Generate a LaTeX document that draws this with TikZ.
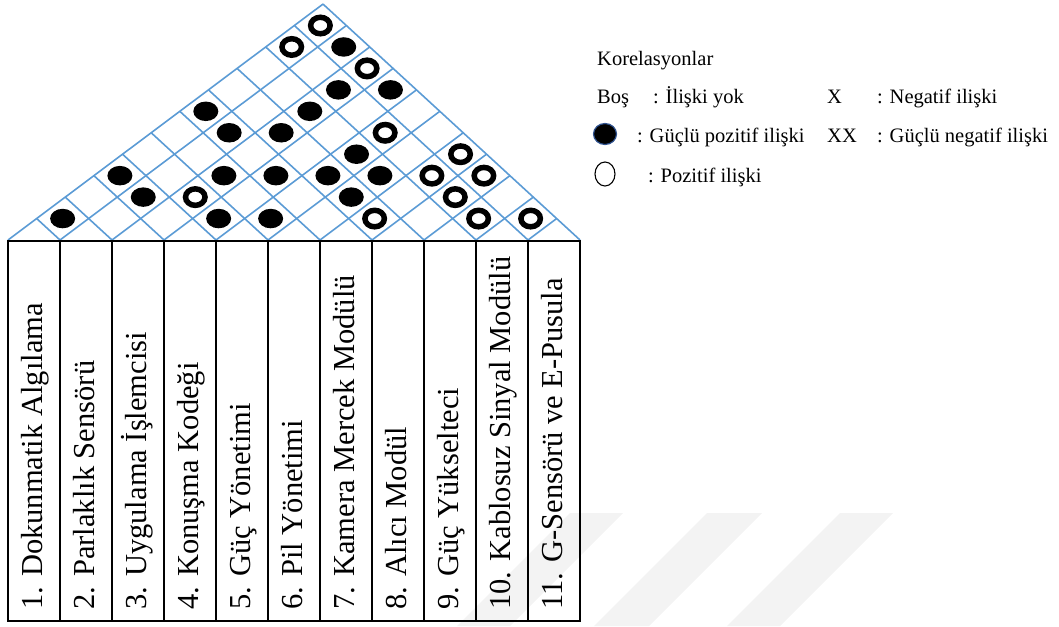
\documentclass[tikz,border=0pt]{standalone}
\usepackage{fontspec}
\setmainfont{Liberation Serif}
\usetikzlibrary{shapes.geometric}
\definecolor{roofblue}{RGB}{91,155,213}
\definecolor{legendedge}{RGB}{47,82,143}
\definecolor{markgray}{RGB}{243,243,243}

\begin{document}
\begin{tikzpicture}[x=1pt,y=-1pt,
  roofline/.style={draw=roofblue, line width=1.6pt},
  colbox/.style={draw=black, line width=2.4pt, minimum width=52pt, minimum height=380pt, inner sep=0pt},
  coltext/.style={rotate=90, anchor=base west, inner sep=0pt, font=\fontsize{30.5}{36}\selectfont},
  strong/.style={ellipse, fill=black, minimum width=25pt, minimum height=19.5pt, inner sep=0pt},
  weak/.style={ellipse, draw=black, fill=white, line width=5.5pt, minimum width=19.5pt, minimum height=16.5pt, inner sep=0pt},
  legtext/.style={anchor=base west, inner sep=0pt, font=\fontsize{20.5}{24}\selectfont},
]
\useasboundingbox (0,0) rectangle (1059,626);

% faint background stripes
\fill[markgray] (570,513) -- (623,513) -- (510,626) -- (457,626) -- cycle;
\fill[markgray] (707,513) -- (762,513) -- (649,626) -- (594,626) -- cycle;
\fill[markgray] (840,513) -- (893,513) -- (780,626) -- (727,626) -- cycle;

% roof slopes (rise per unit run) of the two line families
\pgfmathsetmacro{\sA}{0.749}
\pgfmathsetmacro{\sB}{0.918}

% lines rising to the right from each column boundary
\foreach \k in {0,...,10} {
  \pgfmathsetmacro{\xs}{8+52*\k}
  \pgfmathsetmacro{\xe}{(\sA*\xs+\sB*580)/(\sA+\sB)}
  \pgfmathsetmacro{\ye}{240-\sA*(\xe-\xs)}
  \draw[roofline] (\xs,240) -- (\xe,\ye);
}
% lines rising to the left from each column boundary
\foreach \k in {1,...,11} {
  \pgfmathsetmacro{\xs}{8+52*\k}
  \pgfmathsetmacro{\xe}{(\sA*8+\sB*\xs)/(\sA+\sB)}
  \pgfmathsetmacro{\ye}{240-\sB*(\xs-\xe)}
  \draw[roofline] (\xs,240) -- (\xe,\ye);
}

% strong positive correlations
\foreach \i/\j in {1/2,1/4,1/7,2/4,2/7,2/11,3/6,3/8,3/9,3/10,4/5,4/7,4/11,5/6,5/8,5/9,6/8,6/9} {
  \pgfmathsetmacro{\ci}{52*\i-18}
  \pgfmathsetmacro{\cj}{52*\j-18}
  \pgfmathsetmacro{\cx}{(\sA*\ci+\sB*\cj)/(\sA+\sB)}
  \pgfmathsetmacro{\cy}{240-\sA*(\cx-\ci)}
  \node[strong] (s\i-\j) at (\cx,\cy) {};
}
% positive correlations
\foreach \i/\j in {1/10,1/11,3/5,3/11,5/10,7/8,7/10,7/11,8/10,8/11,9/10,10/11} {
  \pgfmathsetmacro{\ci}{52*\i-18}
  \pgfmathsetmacro{\cj}{52*\j-18}
  \pgfmathsetmacro{\cx}{(\sA*\ci+\sB*\cj)/(\sA+\sB)}
  \pgfmathsetmacro{\cy}{240-\sA*(\cx-\ci)}
  \node[weak] (w\i-\j) at (\cx,\cy) {};
}

% technical requirement columns
\foreach \k/\t in {1/1. Dokunmatik Algılama, 2/2. Parlaklık Sensörü, 3/3. Uygulama İşlemcisi,
  4/4. Konuşma Kodeği, 5/5. Güç Yönetimi, 6/6. Pil Yönetimi, 7/7. Kamera Mercek Modülü,
  8/8. Alıcı Modül, 9/9. Güç Yükselteci, 10/10. Kablosuz Sinyal Modülü, 11/11. G-Sensörü ve E-Pusula} {
  \node[colbox] (col\k) at ({52*\k-18},431) {};
  \node[coltext] (lbl\k) at ({52*\k-10},610) {\t};
}

% legend
\node[legtext] (korel) at (597,65) {Korelasyonlar};
\node[legtext] (bos) at (597,103) {Boş};
\node[legtext] (yok) at (653,103) {: İlişki yok};
\node[legtext] (xneg) at (827,103) {X};
\node[legtext] (neg) at (877,103) {: Negatif ilişki};
\node[ellipse, fill=black, draw=legendedge, line width=1.2pt, minimum width=23pt, minimum height=21pt, inner sep=0pt] (legstrong) at (605,134) {};
\node[legtext] (gpoz) at (637,142) {: Güçlü pozitif ilişki};
\node[legtext] (xx) at (827,142) {XX};
\node[legtext] (gneg) at (877,142) {: Güçlü negatif ilişki};
\node[ellipse, draw=black, line width=1.1pt, minimum width=20pt, minimum height=24pt, inner sep=0pt] (legweak) at (605,174) {};
\node[legtext] (poz) at (648,182) {: Pozitif ilişki};
\end{tikzpicture}
\end{document}
